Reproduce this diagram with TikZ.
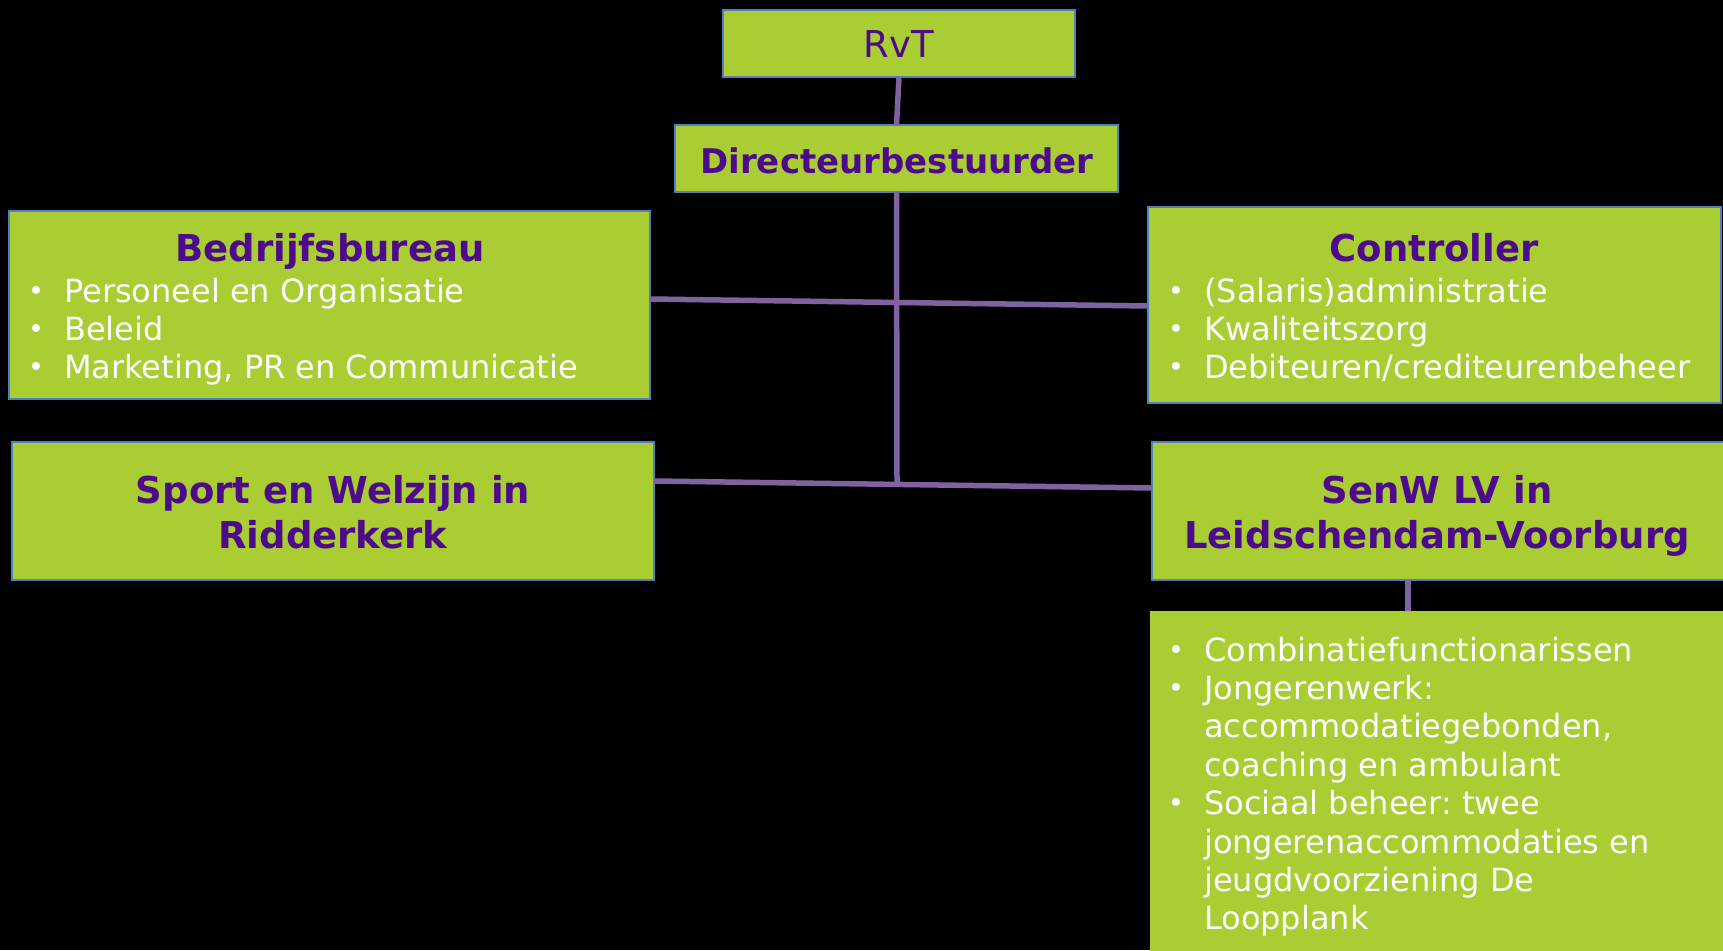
\documentclass[tikz,border=0pt]{standalone}
\usepackage{fontspec}
\setmainfont{DejaVu Sans}
\frenchspacing
\definecolor{boxgreen}{HTML}{A9CD33}
\definecolor{boxedge}{HTML}{4F81BD}
\definecolor{titlepurple}{HTML}{4D0A8A}
\definecolor{linkpurple}{HTML}{8062A0}
\newcommand{\bul}{\makebox[36pt][l]{\raisebox{2pt}{\fontsize{27}{27}\selectfont •}}}
\begin{document}
\begin{tikzpicture}[x=1pt,y=-1pt,
  unitbox/.style={rectangle,fill=boxgreen,draw=boxedge,line width=1.6pt,inner sep=0pt,outer sep=0pt},
  plainbox/.style={rectangle,fill=boxgreen,draw=none,inner sep=0pt,outer sep=0pt},
  titletext/.style={text=titlepurple,font=\fontsize{37}{45}\selectfont\bfseries,inner sep=0pt,anchor=base,align=center},
  rvttext/.style={text=titlepurple,font=\fontsize{37}{44}\selectfont,inner sep=0pt,anchor=base},
  listtext/.style={text=white,font=\fontsize{32}{38.4}\selectfont,inner sep=0pt,anchor=base west},
  link/.style={draw=linkpurple,line width=5.5pt}]
\useasboundingbox (0,0) rectangle (1723,950);
\fill[black] (0,0) rectangle (1723,950);

% connectors (drawn under boxes)
\node[unitbox,minimum width=352pt,minimum height=67pt] (rvt) at (899,43.5) {};
\node[unitbox,minimum width=443pt,minimum height=67pt] (dir) at (896.5,158.5) {};
\node[unitbox,minimum width=641pt,minimum height=188pt] (bb) at (329.5,305) {};
\node[unitbox,minimum width=573pt,minimum height=196pt] (ctrl) at (1434.5,305) {};
\node[unitbox,minimum width=642pt,minimum height=138pt] (sport) at (333,511) {};
\node[unitbox,minimum width=572pt,minimum height=138pt] (senw) at (1438,511) {};
\node[plainbox,minimum width=573pt,minimum height=360pt] (bot) at (1436.5,791) {};

\draw[link] (rvt.south) -- (dir.north);
\coordinate (hub) at (897,484);
\draw[link] (dir.south) -- (hub);
\draw[link] (bb.east |- 0,299) -- (ctrl.west |- 0,306);
\draw[link] (sport.east |- 0,481) -- (senw.west |- 0,488);
\draw[link] (senw.south -| 1408,0) -- (bot.north -| 1408,0);

% texts
\node[rvttext] (trvt) at (899,58) {RvT};
\node[titletext,font=\fontsize{34}{44}\selectfont\bfseries] (tdir) at (897,173) {Directeurbestuurder};
\node[titletext] (tbb) at (330,261) {Bedrijfsbureau};
\node[titletext] (tctrl) at (1434,261) {Controller};
\node[titletext] (tsport) at (333,548) {Sport en Welzijn in\\Ridderkerk};
\node[titletext] (tsenw) at (1437,548) {SenW LV in\\Leidschendam-Voorburg};

\node[listtext] (lbb) at (28,302) {\begin{tabular}[t]{@{}l@{}l@{}}
\bul & Personeel en Organisatie\\
\bul & Beleid\\
\bul & Marketing, PR en Communicatie
\end{tabular}};
\node[listtext] (lctrl) at (1168,302) {\begin{tabular}[t]{@{}l@{}l@{}}
\bul & (Salaris)administratie\\
\bul & Kwaliteitszorg\\
\bul & Debiteuren/crediteurenbeheer
\end{tabular}};
\node[listtext] (lbot) at (1168,661) {\begin{tabular}[t]{@{}l@{}l@{}}
\bul & Combinatiefunctionarissen\\
\bul & Jongerenwerk:\\
 & accommodatiegebonden,\\
 & coaching en ambulant\\
\bul & Sociaal beheer: twee\\
 & jongerenaccommodaties en\\
 & jeugdvoorziening De\\
 & Loopplank
\end{tabular}};
\end{tikzpicture}
\end{document}
